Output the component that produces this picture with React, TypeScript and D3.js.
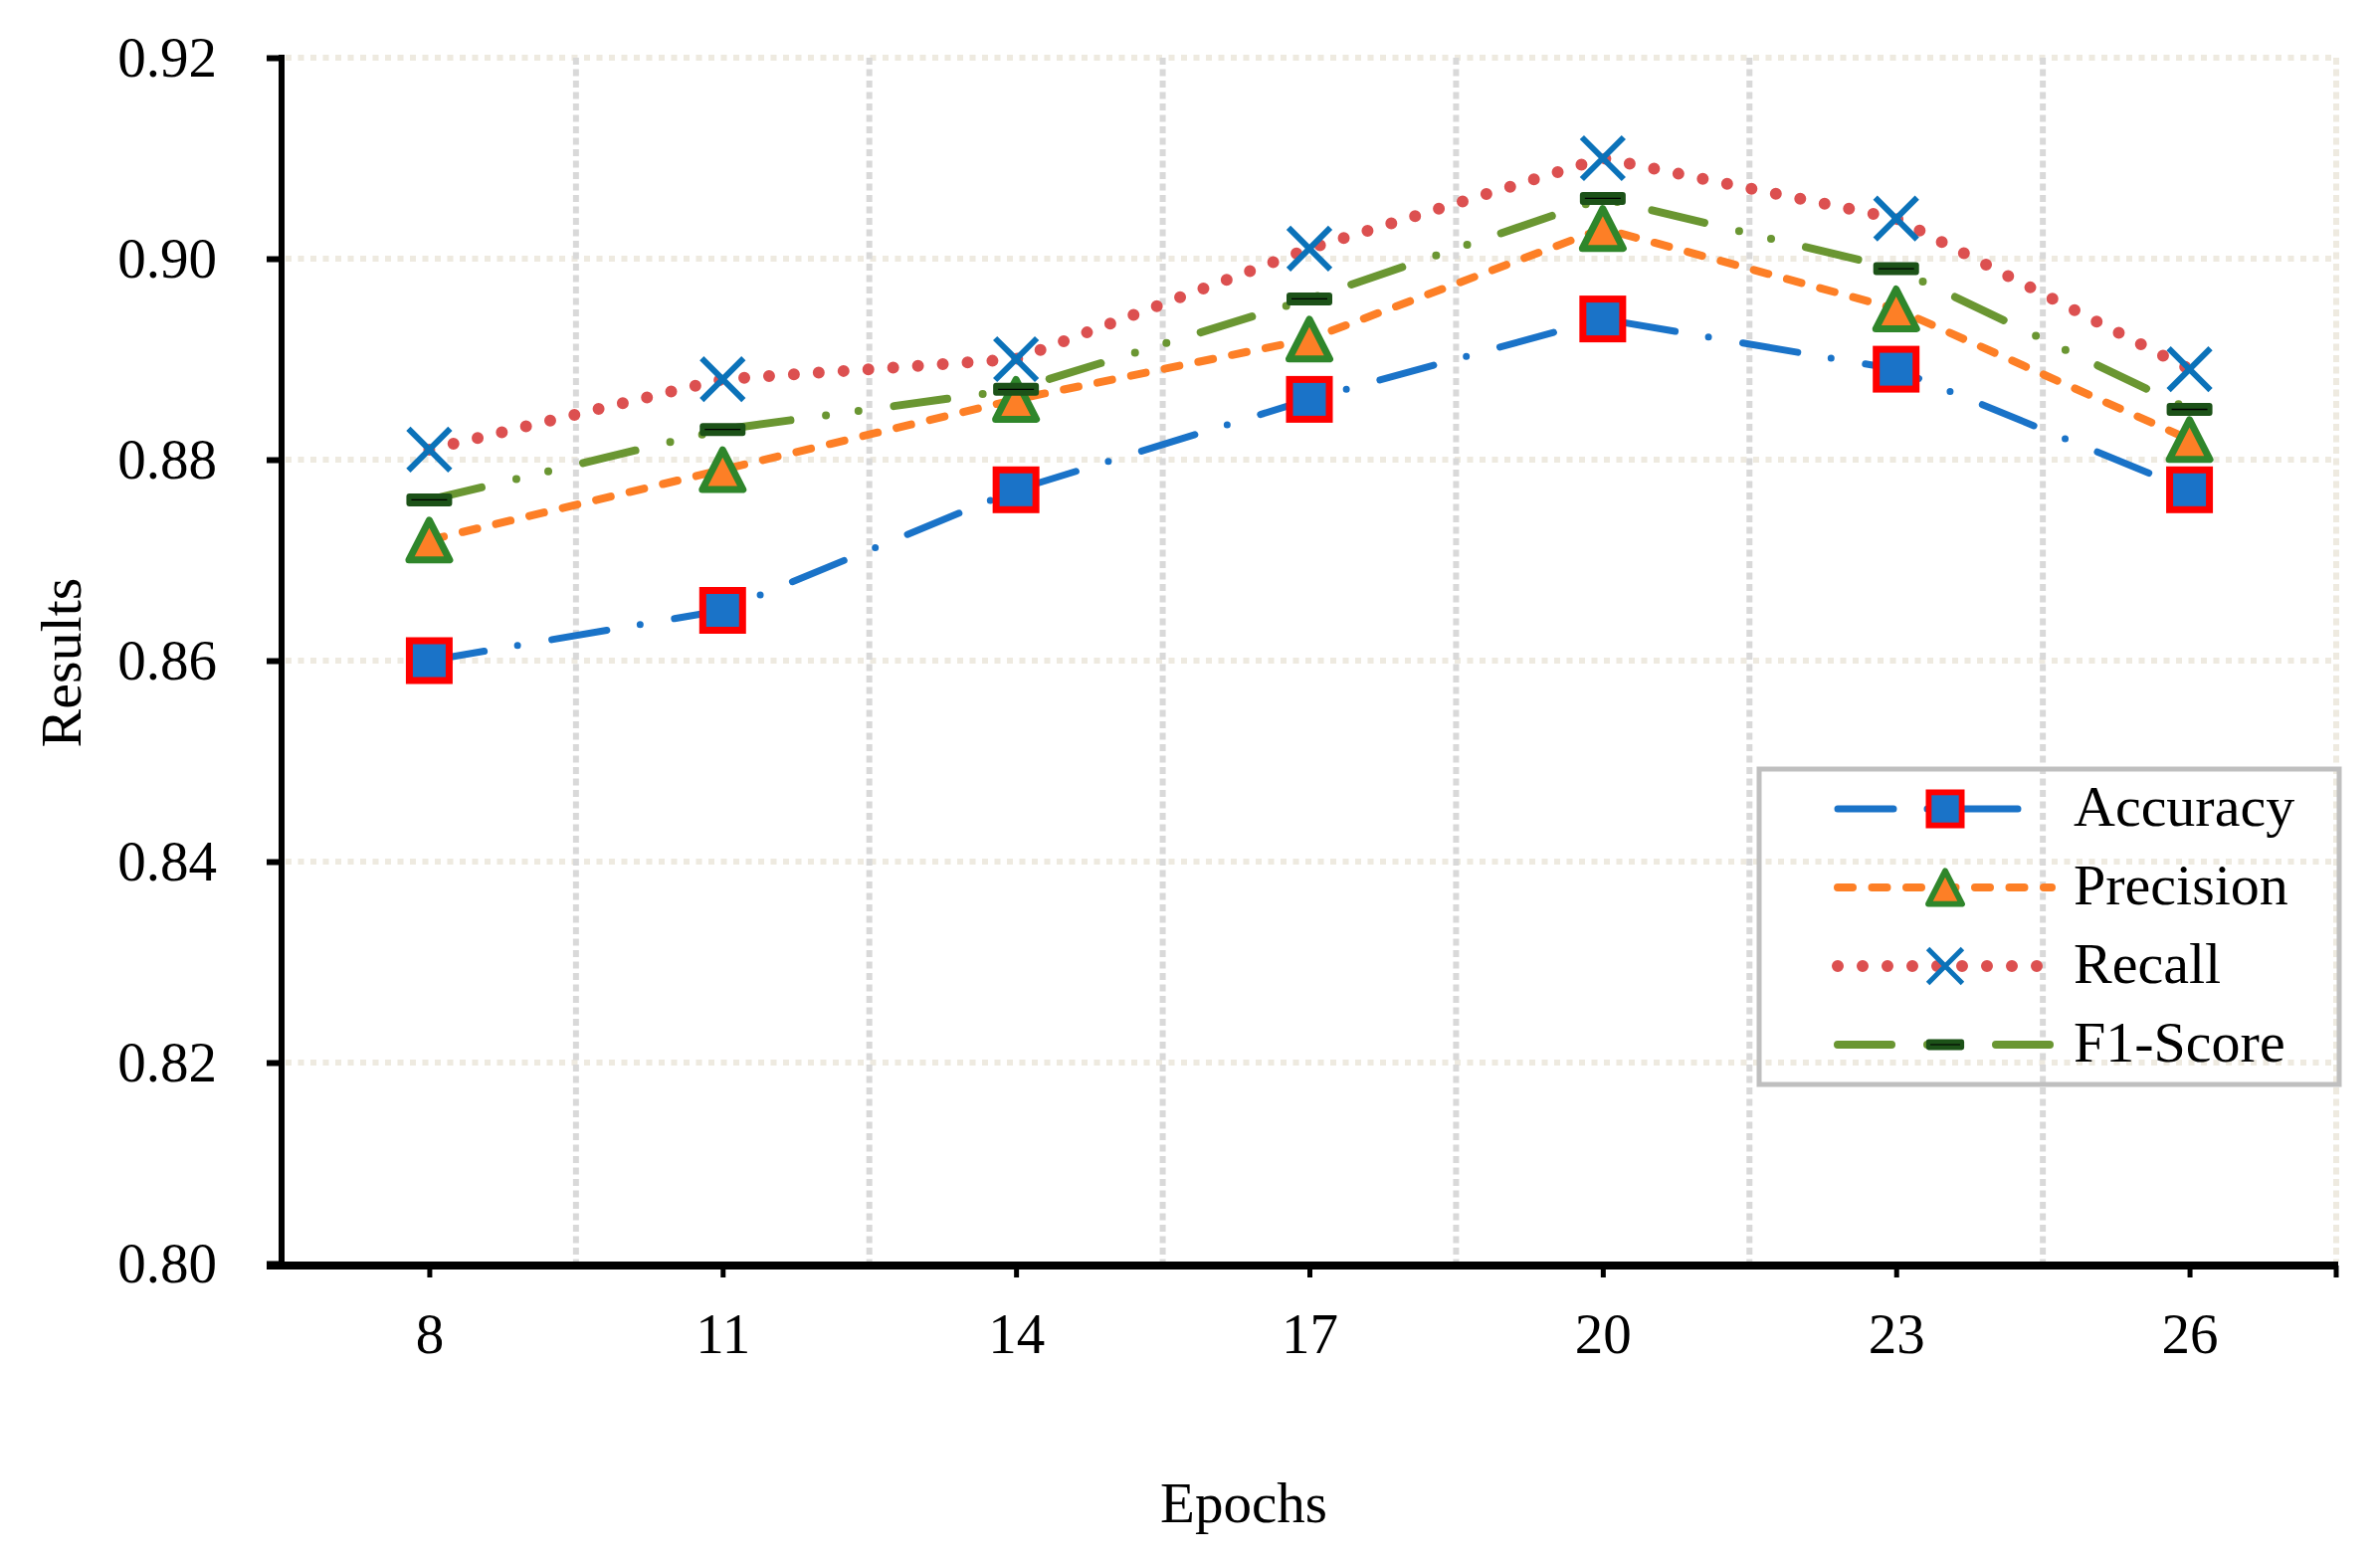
import * as d3 from "d3";
import React, { useEffect, useRef } from "react";

const epochs = ["8", "11", "14", "17", "20", "23", "26"];
const accuracy = [0.86, 0.865, 0.877, 0.886, 0.894, 0.889, 0.877];
const precision = [0.872, 0.879, 0.886, 0.892, 0.903, 0.895, 0.882];
const recall = [0.881, 0.888, 0.89, 0.901, 0.91, 0.904, 0.889];
const f1Score = [0.876, 0.883, 0.887, 0.896, 0.906, 0.899, 0.885];
const yTicks = [0.8, 0.82, 0.84, 0.86, 0.88, 0.9, 0.92];
const seriesNames = ["Accuracy", "Precision", "Recall", "F1-Score"];

const FONT = '"Liberation Serif", "Times New Roman", serif';

// line styles, in the same order as seriesNames
const styles = [
  { color: "#1a73c8", width: 7, dash: "56 34 0 35", marker: "square" },
  { color: "#fd7f26", width: 8, dash: "15 19.5", marker: "triangle" },
  { color: "#dc5050", width: 12, dash: "0 25", marker: "cross" },
  { color: "#6a9632", width: 8, dash: "54 36 0 33 0 36", marker: "bar" },
];

function drawMarker(sel: any, type: string, cx: number, cy: number, k: number) {
  const g = sel
    .append("g")
    .attr("transform", `translate(${cx},${cy}) scale(${k})`);
  if (type === "square") {
    g.append("rect")
      .attr("x", -20)
      .attr("y", -20)
      .attr("width", 40)
      .attr("height", 40)
      .attr("fill", "#1a73c8")
      .attr("stroke", "#ff0000")
      .attr("stroke-width", 7);
  } else if (type === "triangle") {
    g.append("path")
      .attr("d", "M0,-20L20.5,20L-20.5,20Z")
      .attr("fill", "#fd7f26")
      .attr("stroke", "#2f862b")
      .attr("stroke-width", 7)
      .attr("stroke-linejoin", "round");
  } else if (type === "cross") {
    g.append("path")
      .attr("d", "M-21,-21L21,21M21,-21L-21,21")
      .attr("stroke", "#0b72b9")
      .attr("stroke-width", 6)
      .attr("fill", "none");
  } else {
    g.append("rect")
      .attr("x", -23)
      .attr("y", -6.5)
      .attr("width", 46)
      .attr("height", 13)
      .attr("rx", 3)
      .attr("fill", "#1c5218");
    g.append("line")
      .attr("x1", -18)
      .attr("x2", 18)
      .attr("stroke", "#000")
      .attr("stroke-width", 1.3);
  }
}

export default function App() {
  const chartRef = useRef<SVGSVGElement>(null);

  useEffect(() => {
    const svg = d3.select(chartRef.current);
    svg.selectAll("*").remove();

    const left = 284;
    const right = 2348;
    const top = 58;
    const bottom = 1270;

    const xScale = d3.scalePoint().domain(epochs).range([left, right]).padding(0.5);
    const yScale = d3.scaleLinear().domain([0.8, 0.92]).range([bottom, top]);
    const step = xScale.step();

    // grid
    const grid = svg.append("g").attr("class", "grid");
    grid
      .selectAll(".hgrid")
      .data(yTicks.slice(1))
      .enter()
      .append("line")
      .attr("x1", left + 3)
      .attr("x2", right)
      .attr("y1", (d) => yScale(d))
      .attr("y2", (d) => yScale(d))
      .attr("stroke", "#eeeae0")
      .attr("stroke-width", 6)
      .attr("stroke-dasharray", "6 6.5");
    grid
      .selectAll(".vgrid")
      .data(epochs.slice(0, -1))
      .enter()
      .append("line")
      .attr("x1", (d) => xScale(d)! + step / 2)
      .attr("x2", (d) => xScale(d)! + step / 2)
      .attr("y1", top)
      .attr("y2", bottom - 2)
      .attr("stroke", "#d9d9d9")
      .attr("stroke-width", 6)
      .attr("stroke-dasharray", "7 4.5");
    grid
      .append("line")
      .attr("x1", right)
      .attr("x2", right)
      .attr("y1", top)
      .attr("y2", bottom - 2)
      .attr("stroke", "#eeeae0")
      .attr("stroke-width", 6)
      .attr("stroke-dasharray", "7 4.5");

    // y axis
    const yAxis = d3
      .axisLeft(yScale)
      .tickValues(yTicks)
      .tickFormat(d3.format(".2f"))
      .tickSize(15)
      .tickPadding(50);
    const gy = svg.append("g").attr("transform", `translate(283,0)`).call(yAxis);
    gy.select(".domain").remove();
    gy.selectAll(".tick line").attr("stroke", "#000").attr("stroke-width", 6);
    gy.selectAll(".tick text")
      .attr("fill", "#000")
      .attr("font-family", FONT)
      .attr("font-size", 57);
    svg
      .append("line")
      .attr("x1", 283)
      .attr("x2", 283)
      .attr("y1", 55)
      .attr("y2", 1274)
      .attr("stroke", "#000")
      .attr("stroke-width", 6);

    // x axis
    const xAxis = d3.axisBottom(xScale).tickSize(12).tickPadding(36);
    const gx = svg.append("g").attr("transform", `translate(0,1272)`).call(xAxis);
    gx.select(".domain").remove();
    gx.selectAll(".tick line").attr("stroke", "#000").attr("stroke-width", 5);
    gx.selectAll(".tick text")
      .attr("fill", "#000")
      .attr("font-family", FONT)
      .attr("font-size", 57);
    gx.append("line")
      .attr("x1", right)
      .attr("x2", right)
      .attr("y1", 0)
      .attr("y2", 12)
      .attr("stroke", "#000")
      .attr("stroke-width", 5);
    svg
      .append("line")
      .attr("x1", 268)
      .attr("x2", right + 2)
      .attr("y1", 1272)
      .attr("y2", 1272)
      .attr("stroke", "#000")
      .attr("stroke-width", 8);

    // axis titles
    svg
      .append("text")
      .text("Results")
      .attr("transform", "translate(81,666) rotate(-90)")
      .attr("text-anchor", "middle")
      .attr("font-family", FONT)
      .attr("font-size", 58)
      .attr("fill", "#000");
    svg
      .append("text")
      .text("Epochs")
      .attr("x", 1250)
      .attr("y", 1530)
      .attr("text-anchor", "middle")
      .attr("font-family", FONT)
      .attr("font-size", 57)
      .attr("fill", "#000");

    // series
    const allSeries = [accuracy, precision, recall, f1Score];
    const line = d3
      .line<number>()
      .x((d, i) => xScale(epochs[i])!)
      .y((d) => yScale(d));

    allSeries.forEach((values, si) => {
      const st = styles[si];
      const serie = svg.append("g").attr("class", "serie");
      serie
        .append("path")
        .attr("d", line(values))
        .attr("fill", "none")
        .attr("stroke", st.color)
        .attr("stroke-width", st.width)
        .attr("stroke-dasharray", st.dash)
        .attr("stroke-linecap", "round")
        .attr("stroke-linejoin", "round");
      values.forEach((v, i) => {
        drawMarker(serie, st.marker, xScale(epochs[i])!, yScale(v), 1);
      });
    });

    // legend
    const legend = svg.append("g").attr("class", "legend");
    legend
      .append("rect")
      .attr("x", 1768)
      .attr("y", 773)
      .attr("width", 583)
      .attr("height", 317)
      .attr("fill", "none")
      .attr("stroke", "#bfbfbf")
      .attr("stroke-width", 5);
    seriesNames.forEach((name, i) => {
      const st = styles[i];
      const ry = 813 + 79 * i;
      legend
        .append("line")
        .attr("x1", 1847)
        .attr("x2", 2062)
        .attr("y1", ry)
        .attr("y2", ry)
        .attr("stroke", st.color)
        .attr("stroke-width", st.width)
        .attr("stroke-dasharray", st.dash)
        .attr("stroke-linecap", "round");
      drawMarker(legend, st.marker, 1955, ry, 0.83);
      legend
        .append("text")
        .text(name)
        .attr("x", 2084)
        .attr("y", ry + 17)
        .attr("font-family", FONT)
        .attr("font-size", 58)
        .attr("fill", "#000");
    });
  }, []);

  return (
    <svg
      ref={chartRef}
      width={2392}
      height={1571}
      style={{ position: "absolute", left: 0, top: 0, background: "#fff" }}
    />
  );
}
